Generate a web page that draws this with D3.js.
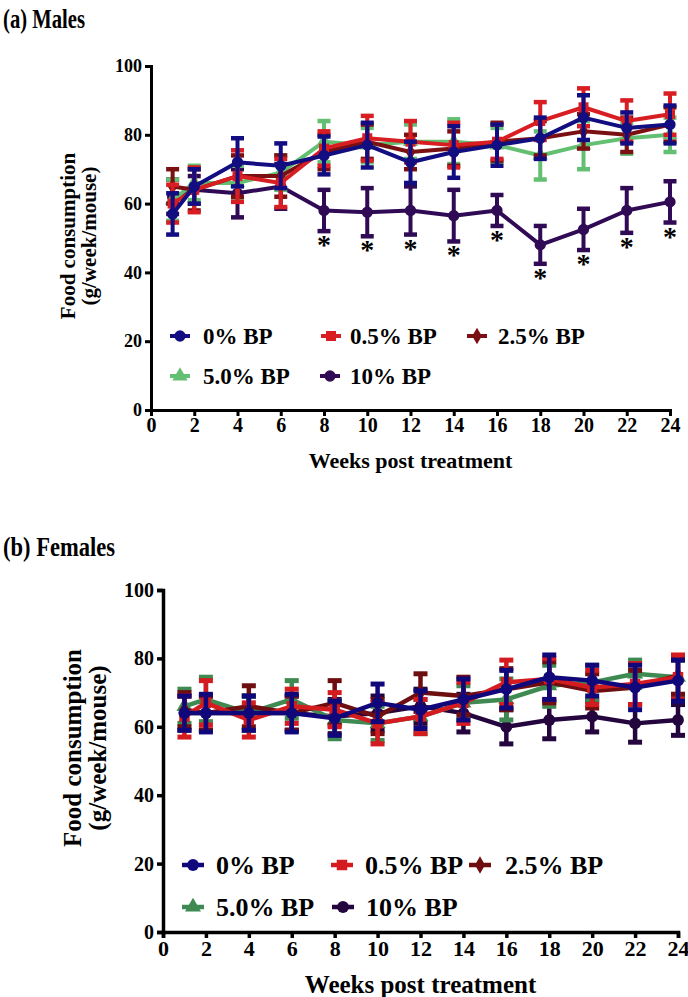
<!DOCTYPE html>
<html><head><meta charset="utf-8">
<script src="https://cdn.jsdelivr.net/npm/d3@7"></script>
<style>body{margin:0;background:#fff}svg{display:block}text{font-family:"Liberation Serif","Times New Roman",serif;font-weight:bold;fill:#000}</style>
</head><body>
<script>
// ---------- data ----------
const weeks = [1, 2, 4, 6, 8, 10, 12, 14, 16, 18, 20, 22, 24];
const xTicks = [0, 2, 4, 6, 8, 10, 12, 14, 16, 18, 20, 22, 24];
const yTicks = [0, 20, 40, 60, 80, 100];
const seriesNames = ["0% BP", "0.5% BP", "2.5% BP", "5.0% BP", "10% BP"];

// Males (a)
const maleMean0  = [57, 65, 72, 71, 74, 77, 72, 75, 77, 79, 85, 82, 83];
const maleErr0   = [6, 5, 7, 6.5, 5.5, 6.5, 6, 7.5, 6, 6, 6.5, 4.5, 5.5];
const maleMean05 = [60, 64, 68, 66, 76, 79, 78, 77, 78, 84, 88, 84, 86];
const maleErr05  = [5.5, 6.5, 7.5, 7, 5, 6.5, 6, 6.5, 5, 5.5, 5.5, 6, 6];
const maleMean25 = [65, 64, 68, 68, 75, 78, 75, 76, 78, 79, 81, 80, 83];
const maleErr25  = [5, 6, 6, 6, 5, 5, 5, 5, 5.5, 5, 5, 5, 5];
const maleMean50 = [61, 66, 66, 69, 78, 77, 78, 78, 77, 74, 77, 79, 80];
const maleErr50  = [6, 5, 5, 5, 6, 5, 5, 6.5, 5, 7, 7, 4.5, 5];
const maleMean10 = [62, 64, 63, 65, 58, 57.5, 58, 56.5, 58, 48, 52.5, 58, 60.5];
const maleErr10  = [5, 4, 7, 6.5, 6, 7, 7, 7.5, 4.5, 5.5, 6, 6.5, 6];
const maleSignif = [false, false, false, false, true, true, true, true, true, true, true, true, true];

// Females (b)
const femMean0  = [64, 64, 64, 64, 62.5, 67, 65, 68, 71, 74.5, 73.5, 71.5, 73.5];
const femErr0   = [5, 5.5, 5, 5.5, 5, 5.5, 5.5, 6, 5.5, 6.5, 4.5, 6.5, 6];
const femMean05 = [63, 67, 62, 66, 65, 61, 63, 67, 73, 74, 71.5, 72.5, 74.5];
const femErr05  = [6, 6.5, 5, 5, 5, 6, 5, 6, 6.5, 6, 5, 6, 6.5];
const femMean25 = [65, 64, 66, 64, 67, 63, 70, 69, 71, 73, 70.5, 71.5, 75];
const femErr25  = [5, 5, 6, 5, 6.5, 5, 5.5, 5.5, 6, 6, 5, 5, 5.5];
const femMean50 = [66, 68, 64, 68, 62, 61, 63, 67, 68, 72, 73, 75.5, 74.5];
const femErr50  = [5, 6.5, 5, 5.5, 5.5, 5, 5, 5, 6, 6, 5, 4, 5];
const femMean10 = [64, 64, 64, 64, 63, 64, 66, 64, 60, 62, 63, 61, 62];
const femErr10  = [5, 5, 5, 5, 5, 5, 5, 5.5, 5, 5.5, 4.5, 5.5, 4.5];

const W = 688, H = 997;
const svg = d3.select("body").append("svg").attr("width", W).attr("height", H);

const symbols = [d3.symbolCircle, d3.symbolSquare, d3.symbolDiamond, d3.symbolTriangle, d3.symbolCircle];

function panel(cfg) {
  const x = d3.scaleLinear().domain([0, 24]).range(cfg.xr);
  const y = d3.scaleLinear().domain([0, 100]).range(cfg.yr);
  const g = svg.append("g");

  // title
  g.append("text").attr("x", cfg.title.x).attr("y", cfg.title.y)
    .attr("font-size", cfg.title.size).attr("textLength", cfg.title.len)
    .attr("lengthAdjust", "spacingAndGlyphs").text(cfg.title.text);

  // axes
  const xAxis = d3.axisBottom(x).tickValues(xTicks).tickSize(cfg.tick).tickPadding(2).tickFormat(d3.format("d"));
  const yAxis = d3.axisLeft(y).tickValues(yTicks).tickSize(cfg.tick).tickPadding(3).tickFormat(d3.format("d"));
  const gx = g.append("g").attr("transform", `translate(0,${cfg.yr[0]})`).call(xAxis);
  const gy = g.append("g").attr("transform", `translate(${cfg.xr[0]},0)`).call(yAxis);
  [gx, gy].forEach((a, j) => {
    a.select(".domain").attr("stroke", "#000").attr("stroke-width", cfg.axisW);
    a.selectAll(".tick line").attr("stroke", "#000").attr("stroke-width", cfg.axisW);
    a.selectAll(".tick text").attr("font-size", j === 0 ? cfg.xTickSize : cfg.yTickSize)
      .attr("font-family", "Liberation Serif").attr("font-weight", "bold").attr("fill", "#000");
  });

  // axis titles
  g.append("text").attr("x", (cfg.xr[0] + cfg.xr[1]) / 2).attr("y", cfg.xTitleY)
    .attr("text-anchor", "middle").attr("font-size", cfg.xTitleSize).text("Weeks post treatment");
  const cy = cfg.yTitleCY;
  g.append("text").attr("transform", `translate(${cfg.yTitleX1},${cy}) rotate(-90)`)
    .attr("text-anchor", "middle").attr("font-size", cfg.yTitleSize).text("Food consumption");
  g.append("text").attr("transform", `translate(${cfg.yTitleX2},${cy}) rotate(-90)`)
    .attr("text-anchor", "middle").attr("font-size", cfg.yTitleSize).text("(g/week/mouse)");

  // series, drawn bottom to top
  const order = [4, 3, 2, 1, 0];
  const line = d3.line().x(d => x(d.w)).y(d => y(d.m));
  order.forEach(i => {
    const s = cfg.series[i];
    const pts = weeks.map((w, k) => ({ w, m: s.mean[k], e: s.err[k] }));
    const sg = g.append("g");
    sg.append("path").datum(pts).attr("d", line).attr("fill", "none")
      .attr("stroke", s.color).attr("stroke-width", cfg.lineW).attr("stroke-linejoin", "round");
    const eb = sg.selectAll(".eb").data(pts).enter().append("g");
    eb.append("line").attr("x1", d => x(d.w)).attr("x2", d => x(d.w))
      .attr("y1", d => y(d.m - d.e)).attr("y2", d => y(d.m + d.e))
      .attr("stroke", s.color).attr("stroke-width", cfg.lineW);
    [-1, 1].forEach(sign => {
      eb.append("line").attr("x1", d => x(d.w) - cfg.capW / 2).attr("x2", d => x(d.w) + cfg.capW / 2)
        .attr("y1", d => y(d.m + sign * d.e)).attr("y2", d => y(d.m + sign * d.e))
        .attr("stroke", s.color).attr("stroke-width", cfg.capT);
    });
    sg.selectAll(".mk").data(pts).enter().append("path")
      .attr("transform", d => `translate(${x(d.w)},${y(d.m)})`)
      .attr("d", d3.symbol().type(symbols[i]).size(i === 2 ? cfg.markSize * 0.8 : cfg.markSize))
      .attr("fill", s.color);
  });

  // significance stars
  if (cfg.signif) {
    const s = cfg.series[4];
    weeks.forEach((w, k) => {
      if (!cfg.signif[k]) return;
      g.append("text").attr("x", x(w)).attr("y", y(s.mean[k] - s.err[k]) + cfg.starOff)
        .attr("text-anchor", "middle").attr("font-size", cfg.starSize).text("*");
    });
  }

  // legend
  cfg.legend.forEach((L, i) => {
    const s = cfg.series[i];
    g.append("line").attr("x1", L.mx - cfg.legLine).attr("x2", L.mx + cfg.legLine)
      .attr("y1", L.y).attr("y2", L.y).attr("stroke", s.color).attr("stroke-width", cfg.lineW);
    g.append("path").attr("transform", `translate(${L.mx},${L.y})`)
      .attr("d", d3.symbol().type(symbols[i]).size(i === 2 ? cfg.markSize * 0.8 : cfg.markSize)).attr("fill", s.color);
    g.append("text").attr("x", L.tx).attr("y", L.y).attr("dy", "0.35em")
      .attr("font-size", cfg.legSize).text(seriesNames[i]);
  });
}

panel({
  xr: [151, 670], yr: [410, 66],
  title: { text: "(a) Males", x: 3, y: 28, size: 28, len: 82 },
  tick: 6, axisW: 3, xTickSize: 20, yTickSize: 18,
  xTitleY: 468, xTitleSize: 22,
  yTitleX1: 75, yTitleX2: 96, yTitleCY: 236, yTitleSize: 21,
  lineW: 4, capW: 13, capT: 4.5, markSize: 100,
  starOff: 23, starSize: 28,
  signif: maleSignif,
  legLine: 10, legSize: 23,
  series: [
    { mean: maleMean0, err: maleErr0, color: "#120d80" },
    { mean: maleMean05, err: maleErr05, color: "#d81e22" },
    { mean: maleMean25, err: maleErr25, color: "#7a1012" },
    { mean: maleMean50, err: maleErr50, color: "#63bf72" },
    { mean: maleMean10, err: maleErr10, color: "#300a55" }
  ],
  legend: [
    { mx: 180, tx: 203, y: 336 }, { mx: 331, tx: 350, y: 336 }, { mx: 477, tx: 498, y: 336 },
    { mx: 180, tx: 203, y: 376 }, { mx: 330, tx: 350, y: 376 }
  ]
});

panel({
  xr: [163, 678], yr: [932, 590],
  title: { text: "(b) Females", x: 3, y: 556, size: 28, len: 112 },
  tick: 6, axisW: 3.5, xTickSize: 22, yTickSize: 20,
  xTitleY: 993, xTitleSize: 25,
  yTitleX1: 81, yTitleX2: 106, yTitleCY: 748, yTitleSize: 25,
  lineW: 4.5, capW: 14, capT: 5, markSize: 110,
  starOff: 21, starSize: 24,
  signif: null,
  legLine: 11, legSize: 26,
  series: [
    { mean: femMean0, err: femErr0, color: "#10087a" },
    { mean: femMean05, err: femErr05, color: "#d41c20" },
    { mean: femMean25, err: femErr25, color: "#6e0e10" },
    { mean: femMean50, err: femErr50, color: "#3f8a52" },
    { mean: femMean10, err: femErr10, color: "#24053e" }
  ],
  legend: [
    { mx: 193, tx: 216, y: 865 }, { mx: 342, tx: 365, y: 865 }, { mx: 480, tx: 505, y: 865 },
    { mx: 193, tx: 216, y: 907 }, { mx: 343, tx: 366, y: 907 }
  ]
});
</script>
</body></html>
